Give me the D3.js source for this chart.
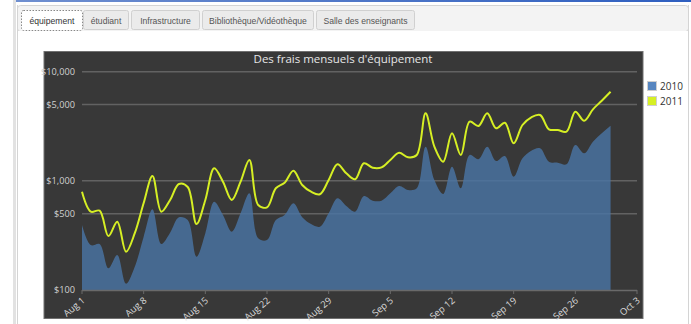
<!DOCTYPE html>
<html><head><meta charset="utf-8">
<script src="https://cdn.jsdelivr.net/npm/d3@7"></script>
<style>body{margin:0;background:#fff;overflow:hidden}svg{display:block}</style>
</head><body>
<script>
// ---- data ----
const tabs = ["équipement","étudiant","Infrastructure","Bibliothèque/Vidéothèque","Salle des enseignants"];
const title = "Des frais mensuels d'équipement";
const seriesNames = ["2010","2011"];
const startDay = "2011-08-01";
const endDay = "2011-10-03";
const values2010 = [394,258,264,158,209,114,164,308,549,264,335,464,438,202,331,644,487,342,504,769,298,287,438,487,623,464,402,380,504,692,588,522,726,658,658,769,897,825,855,2056,1018,758,1348,855,1725,1576,2056,1520,1689,1092,1610,1889,1987,1497,1467,1418,2130,1788,2284,2727,3202];
const values2011 = [795,522,533,312,422,224,333,627,1108,522,668,936,878,402,668,1303,982,668,982,1553,601,572,855,962,1239,916,795,753,1018,1418,1173,1033,1448,1319,1329,1553,1811,1643,1725,4158,2056,1497,2727,1725,3483,3181,4158,3030,3411,2208,3248,3821,4011,2967,2923,2821,4300,3557,4523,5424,6558];
const yTicks = [100,500,1000,5000,10000];
const xTickLabels = ["Aug 1","Aug 8","Aug 15","Aug 22","Aug 29","Sep 5","Sep 12","Sep 19","Sep 26","Oct 3"];

const W=691,H=324;
const svg=d3.select("body").append("svg").attr("width",W).attr("height",H);
const parse=d3.timeParse("%Y-%m-%d");
const d0=parse(startDay), d1=parse(endDay);
const dates=d3.timeDay.range(d0, d3.timeDay.offset(d0, values2010.length));

// page frame
svg.append("rect").attr("x",13).attr("y",0).attr("width",3).attr("height",H).attr("fill","#e2e2e2");
const grad=svg.append("defs").append("linearGradient").attr("id","bl");
grad.append("stop").attr("offset","0").attr("stop-color","#6f8fd0");
grad.append("stop").attr("offset","1").attr("stop-color","#2f5fc0");
svg.append("rect").attr("x",16).attr("y",0).attr("width",W-16).attr("height",2).attr("fill","url(#bl)");
svg.append("rect").attr("x",17.5).attr("y",5.5).attr("width",W-20).attr("height",26).attr("rx",3)
  .attr("fill","#f3f3f3").attr("stroke","#d4d4d4");
svg.append("rect").attr("x",18).attr("y",31).attr("width",W-21).attr("height",H-31).attr("fill","#fff");
svg.append("line").attr("x1",17.5).attr("x2",17.5).attr("y1",5).attr("y2",H).attr("stroke","#d4d4d4");
svg.append("line").attr("x1",W-2.5).attr("x2",W-2.5).attr("y1",5).attr("y2",H).attr("stroke","#d4d4d4");

// tabs
const tabX=[[21,82],[83,128],[131,199],[202,313],[316,414]];
tabs.forEach((t,i)=>{
  const [a,b]=tabX[i];
  const sel=i===0;
  svg.append("rect").attr("x",a+0.5).attr("y",10.5).attr("width",b-a).attr("height",sel?20:19).attr("rx",2)
    .attr("fill",sel?"#fff":"#ebebeb").attr("stroke",sel?"#888":"#d0d0d0")
    .attr("stroke-dasharray",sel?"1.5,1.5":null);
  svg.append("text").attr("x",(a+b)/2+0.5).attr("y",23.5).attr("text-anchor","middle")
    .attr("font-family","Liberation Sans, Arial, sans-serif").attr("font-size","8.6px")
    .attr("fill",sel?"#333":"#555").text(t);
});

// chart box
svg.append("rect").attr("x",44).attr("y",51.5).attr("width",599).attr("height",267)
  .attr("fill","#383838").attr("stroke","#707070").attr("stroke-width",1);

const x=d3.scaleTime().domain([d0,d1]).range([82,637]);
const y=d3.scaleLog().domain([100,10000]).range([290,71.7]);

svg.append("text").attr("x",343).attr("y",63).attr("text-anchor","middle")
  .attr("font-family","Open Sans, sans-serif").attr("font-size","11.5px").attr("fill","#e6e6e6").text(title);

// grid
const g=svg.append("g");
g.selectAll("line.grid").data(yTicks.filter(v=>v>100)).enter().append("line")
  .attr("x1",82).attr("x2",637).attr("y1",d=>y(d)).attr("y2",d=>y(d))
  .attr("stroke","#626262").attr("stroke-width",1.5);

// y axis labels
const fmt=d3.format("$,");
g.selectAll("text.yl").data(yTicks).enter().append("text")
  .attr("x",75).attr("y",d=>y(d)+3.2).attr("text-anchor","end")
  .attr("font-family","Open Sans, sans-serif").attr("font-size","9.2px").attr("fill","#d0d0d0")
  .text(d=>fmt(d));

// area 2010
const curve=d3.curveCatmullRom.alpha(0.5);
const area=d3.area().x((d,i)=>x(dates[i])).y0(y(100)).y1(d=>y(d)).curve(curve);
svg.append("path").datum(values2010).attr("d",area).attr("fill","#4a76a6").attr("fill-opacity",0.8);

// line 2011
const line=d3.line().x((d,i)=>x(dates[i])).y(d=>y(d)).curve(curve);
svg.append("path").datum(values2011).attr("d",line).attr("fill","none").attr("stroke","#d6ef24").attr("stroke-width",2);

// x axis
svg.append("line").attr("x1",82).attr("x2",637).attr("y1",290.5).attr("y2",290.5).attr("stroke","#6a6a6a").attr("stroke-width",1.5);
const tickDates=xTickLabels.map(s=>d3.timeParse("%b %d %Y")(s+" 2011"));
tickDates.forEach((d,i)=>{
  const tx=x(d);
  svg.append("line").attr("x1",tx).attr("x2",tx).attr("y1",290).attr("y2",294).attr("stroke","#6a6a6a");
  svg.append("text").attr("transform",`translate(${tx+1.5},${299}) rotate(-40)`).attr("text-anchor","end")
    .attr("font-family","Open Sans, sans-serif").attr("font-size","9.4px").attr("fill","#d8d8d8")
    .attr("dy","0.35em").text(xTickLabels[i]);
});

// legend
const legColors=["#5786c0","#d6ef24"];
seriesNames.forEach((s,i)=>{
  const ly=81.5+i*15;
  svg.append("rect").attr("x",647.5).attr("y",ly).attr("width",9).attr("height",9)
    .attr("fill",legColors[i]).attr("stroke","#cfcfcf");
  svg.append("text").attr("x",660).attr("y",ly+8.5).attr("font-family","Open Sans, sans-serif")
    .attr("font-size","10px").attr("fill","#333").text(s);
});
</script>
</body></html>
